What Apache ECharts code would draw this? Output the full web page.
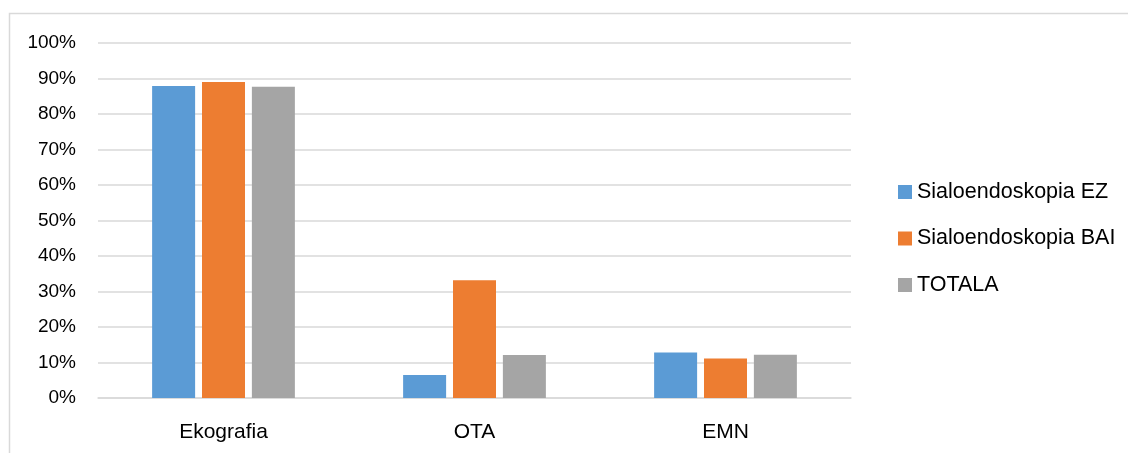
<!DOCTYPE html>
<html>
<head>
<meta charset="utf-8">
<script src="https://cdn.jsdelivr.net/npm/echarts@6/dist/echarts.min.js"></script>
<style>
  html, body { margin: 0; padding: 0; background: #fff; }
  #chart { width: 1128px; height: 453px; }
</style>
</head>
<body>
<div id="chart"></div>
<script>
// Diagnostic methods, share of cases (%)
const categories = ['Ekografia', 'OTA', 'EMN'];
const seriesNames = ['Sialoendoskopia EZ', 'Sialoendoskopia BAI', 'TOTALA'];
const valuesEZ = [87.9, 6.5, 12.8];
const valuesBAI = [89.0, 33.2, 11.1];
const valuesTotal = [87.7, 12.1, 12.2];
const colors = ['#5b9bd5', '#ed7d31', '#a5a5a5'];

const font = '"Liberation Sans", Arial, sans-serif';
const gridGray = '#d9d9d9';

const chart = echarts.init(document.getElementById('chart'), null, { renderer: 'canvas' });

const makeSeries = (name, data, color) => ({
  name,
  type: 'bar',
  data,
  barWidth: 43,
  barGap: '16%',
  itemStyle: { color },
  emphasis: { disabled: true }
});

chart.setOption({
  animation: false,
  color: colors,
  graphic: [{
    type: 'rect',
    shape: { x: 9.5, y: 13.5, width: 1300, height: 600 },
    style: { fill: 'none', stroke: gridGray, lineWidth: 1.5 },
    silent: true
  }],
  grid: { left: 98, right: 277, top: 43, bottom: 55 },
  legend: {
    orient: 'vertical',
    left: 893,
    top: 175,
    itemWidth: 14,
    itemHeight: 14,
    itemGap: 22.5,
    icon: 'rect',
    data: seriesNames,
    textStyle: { fontFamily: font, fontSize: 21.5, color: '#000', lineHeight: 24 }
  },
  xAxis: {
    type: 'category',
    data: categories,
    axisLine: { lineStyle: { color: gridGray, width: 1.5 } },
    axisTick: { show: false },
    axisLabel: { fontFamily: font, fontSize: 21, color: '#000', margin: 24 }
  },
  yAxis: {
    type: 'value',
    min: 0,
    max: 100,
    interval: 10,
    axisLine: { show: false },
    axisTick: { show: false },
    splitLine: { lineStyle: { color: gridGray, width: 1.5 } },
    axisLabel: {
      fontFamily: font, fontSize: 19, color: '#000', margin: 22,
      padding: [4, 0, 0, 0],
      formatter: v => v + '%'
    }
  },
  series: [
    makeSeries(seriesNames[0], valuesEZ, colors[0]),
    makeSeries(seriesNames[1], valuesBAI, colors[1]),
    makeSeries(seriesNames[2], valuesTotal, colors[2])
  ]
});
</script>
</body>
</html>
